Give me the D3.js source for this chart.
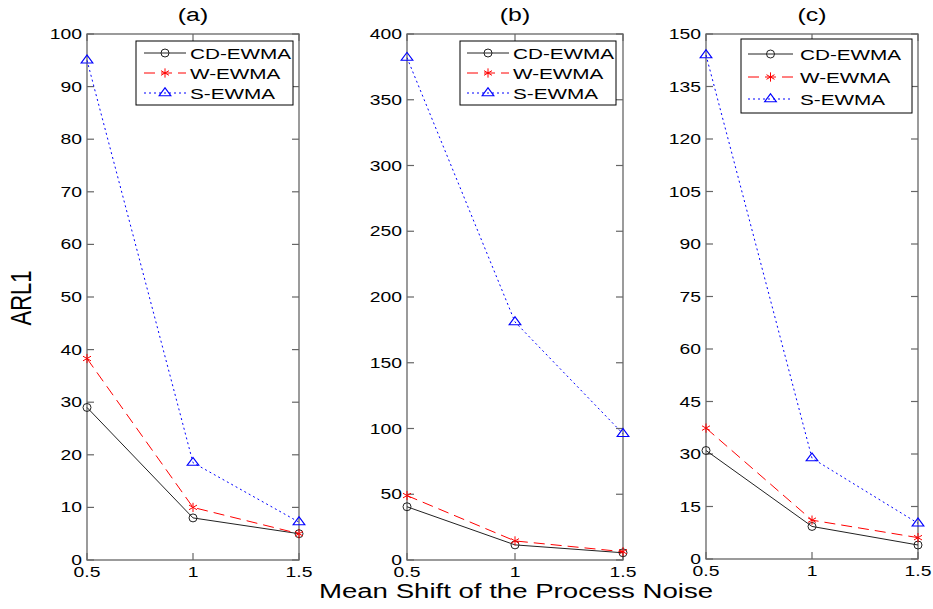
<!DOCTYPE html>
<html>
<head>
<meta charset="utf-8">
<script src="https://cdn.jsdelivr.net/npm/d3@7"></script>
<style>
  html, body { margin: 0; padding: 0; background: #fff; }
  text { font-family: "Liberation Sans", Arial, sans-serif; fill: #000; }
</style>
</head>
<body>
<svg id="chart" width="933" height="609"></svg>
<script>
// ---- data ----
const shifts = [0.5, 1, 1.5];
const xTickLabels = ["0.5", "1", "1.5"];
const seriesNames = ["CD-EWMA", "W-EWMA", "S-EWMA"];
const panelTitles = ["(a)", "(b)", "(c)"];

const aCD = [29, 8, 5];
const aW  = [38.3, 10, 5];
const aS  = [95, 18.5, 7.2];

const bCD = [40.5, 11.5, 5.5];
const bW  = [49, 14.5, 6.3];
const bS  = [382, 181, 96];

const cCD = [31, 9.3, 4];
const cW  = [37.4, 11.1, 6.1];
const cS  = [144, 28.8, 10.2];

const aTicks = [0, 10, 20, 30, 40, 50, 60, 70, 80, 90, 100];
const bTicks = [0, 50, 100, 150, 200, 250, 300, 350, 400];
const cTicks = [0, 15, 30, 45, 60, 75, 90, 105, 120, 135, 150];

// ---- layout / style ----
const SX = 1.38; // horizontal text stretch seen in reference
const svg = d3.select("#chart");
const axisColor = "#666";
const styles = [
  { color: "#222", dash: null, marker: "circle" },
  { color: "#ff0000", dash: "11,6", marker: "star" },
  { color: "#0000ff", dash: "2,3", marker: "triangle" }
];

const panels = [
  { x0: 87,  x1: 299, y0: 34, y1: 560, max: 100, ticks: aTicks, data: [aCD, aW, aS],
    legend: { x: 136, y: 41, w: 157, h: 64, rows: [53, 73, 93], lx0: 144, lx1: 186, tx: 190 } },
  { x0: 407, x1: 623, y0: 34, y1: 560, max: 400, ticks: bTicks, data: [bCD, bW, bS],
    legend: { x: 460, y: 41, w: 156, h: 64, rows: [53, 73, 93], lx0: 467, lx1: 509, tx: 513 } },
  { x0: 706, x1: 918, y0: 34, y1: 559, max: 150, ticks: cTicks, data: [cCD, cW, cS],
    legend: { x: 741, y: 39, w: 171, h: 74, rows: [54, 77, 99], lx0: 748, lx1: 793, tx: 800 } }
];

function stxt(g, x, y, str, size, anchor, extra) {
  return g.append("text")
    .attr("transform", `translate(${x},${y}) scale(${SX},1)` + (extra || ""))
    .attr("text-anchor", anchor)
    .style("font-size", size + "px")
    .text(str);
}

function drawMarker(g, type, x, y, color) {
  if (type === "circle") {
    g.append("circle").attr("cx", x).attr("cy", y).attr("r", 4)
      .attr("fill", "none").attr("stroke", color).attr("stroke-width", 1);
  } else if (type === "star") {
    g.append("path").attr("transform", `translate(${x},${y})`)
      .attr("d", d3.symbol(d3.symbolAsterisk, 60)())
      .attr("fill", "none").attr("stroke", color).attr("stroke-width", 1);
  } else {
    g.append("path").attr("transform", `translate(${x},${y}) scale(1.15,0.9)`)
      .attr("d", d3.symbol(d3.symbolTriangle, 45)())
      .attr("fill", "none").attr("stroke", color).attr("stroke-width", 1.1);
  }
}

panels.forEach((p, pi) => {
  const g = svg.append("g");
  const x = d3.scaleLinear().domain([0.5, 1.5]).range([p.x0, p.x1]);
  const y = d3.scaleLinear().domain([0, p.max]).range([p.y1, p.y0]);
  const tl = 7;

  // frame
  g.append("rect").attr("x", p.x0).attr("y", p.y0)
    .attr("width", p.x1 - p.x0).attr("height", p.y1 - p.y0)
    .attr("fill", "none").attr("stroke", axisColor).attr("stroke-width", 1.3);

  // y ticks (left + right, inward) and labels
  p.ticks.forEach(t => {
    const yy = y(t);
    g.append("line").attr("x1", p.x0).attr("x2", p.x0 + tl).attr("y1", yy).attr("y2", yy)
      .attr("stroke", axisColor).attr("stroke-width", 1.2);
    g.append("line").attr("x1", p.x1).attr("x2", p.x1 - tl).attr("y1", yy).attr("y2", yy)
      .attr("stroke", axisColor).attr("stroke-width", 1.2);
    stxt(g, p.x0 - 5, yy + 5, String(t), 14, "end");
  });

  // x ticks (bottom + top, inward) and labels
  shifts.forEach((s, i) => {
    const xx = x(s);
    g.append("line").attr("x1", xx).attr("x2", xx).attr("y1", p.y1).attr("y2", p.y1 - tl)
      .attr("stroke", axisColor).attr("stroke-width", 1.2);
    g.append("line").attr("x1", xx).attr("x2", xx).attr("y1", p.y0).attr("y2", p.y0 + tl)
      .attr("stroke", axisColor).attr("stroke-width", 1.2);
    stxt(g, xx, p.y1 + 17, xTickLabels[i], 14, "middle");
  });

  // title
  stxt(g, (p.x0 + p.x1) / 2, 21, panelTitles[pi], 18, "middle");

  // series
  p.data.forEach((vals, si) => {
    const st = styles[si];
    const line = d3.line().x((d, i) => x(shifts[i])).y(d => y(d));
    g.append("path").datum(vals).attr("d", line)
      .attr("fill", "none").attr("stroke", st.color).attr("stroke-width", 1)
      .attr("stroke-dasharray", st.dash);
    vals.forEach((v, i) => drawMarker(g, st.marker, x(shifts[i]), y(v), st.color));
  });

  // legend
  const L = p.legend;
  g.append("rect").attr("x", L.x).attr("y", L.y).attr("width", L.w).attr("height", L.h)
    .attr("fill", "#fff").attr("stroke", "#000").attr("stroke-width", 1);
  seriesNames.forEach((name, si) => {
    const st = styles[si];
    const ry = L.rows[si];
    g.append("line").attr("x1", L.lx0).attr("x2", L.lx1).attr("y1", ry).attr("y2", ry)
      .attr("stroke", st.color).attr("stroke-width", 1).attr("stroke-dasharray", st.dash);
    drawMarker(g, st.marker, (L.lx0 + L.lx1) / 2, ry, st.color);
    stxt(g, L.tx, ry + 5.5, name, 15, "start");
  });
});

// axis titles
stxt(svg, 516, 598, "Mean Shift of the Process Noise", 20, "middle");
svg.append("text")
  .attr("transform", `translate(31,298) scale(${SX},1) rotate(-90)`)
  .attr("text-anchor", "middle")
  .style("font-size", "22px")
  .text("ARL1");
</script>
</body>
</html>
